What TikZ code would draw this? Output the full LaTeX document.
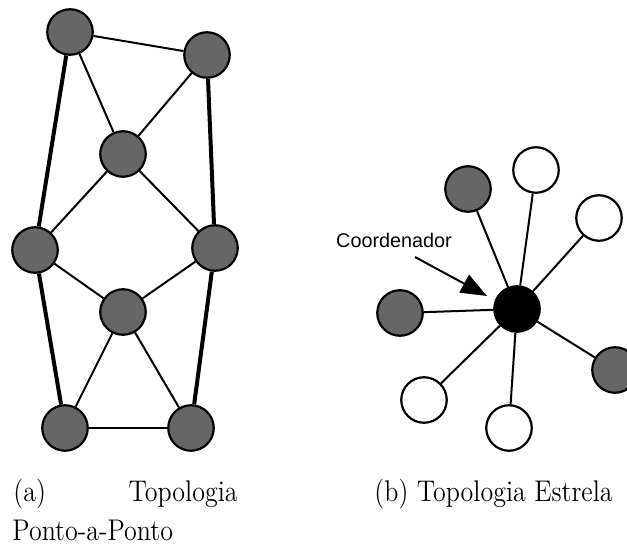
\documentclass[tikz,border=0pt]{standalone}
\usepackage{fontspec}
\newfontfamily\labelfont{Liberation Sans}
\usetikzlibrary{arrows.meta}
\definecolor{nodegray}{RGB}{102,102,102}
\newcommand{\tallcap}[1]{\scalebox{1}[1.15]{#1}}
\tikzset{
  x=0.5pt, y=-0.5pt,
  vertex/.style={circle, draw=black, line width=1.1pt, minimum size=22.75pt, inner sep=0pt},
  darkv/.style={vertex, fill=nodegray},
  lightv/.style={vertex, fill=white},
  hubv/.style={vertex, fill=black},
  thinlink/.style={line width=1pt},
  thicklink/.style={line width=2pt},
  caption/.style={font=\fontsize{13}{15}\selectfont, inner sep=0pt},
}
\begin{document}
\begin{tikzpicture}
\useasboundingbox (0,0) rectangle (627,545);
\clip (0,0) rectangle (627,545);

% (a) point-to-point mesh
\node[darkv] (a1) at (70,32) {};
\node[darkv] (a2) at (207,55) {};
\node[darkv] (a3) at (123,154) {};
\node[darkv] (a4) at (35,250) {};
\node[darkv] (a5) at (215,248) {};
\node[darkv] (a6) at (123,312) {};
\node[darkv] (a7) at (65,428) {};
\node[darkv] (a8) at (191,428) {};

\draw[thinlink] (a1) -- (a2);
\draw[thinlink] (a1) -- (a3);
\draw[thinlink] (a2) -- (a3);
\draw[thinlink] (a3) -- (a4);
\draw[thinlink] (a3) -- (a5);
\draw[thinlink] (a4) -- (a6);
\draw[thinlink] (a5) -- (a6);
\draw[thinlink] (a6) -- (a7);
\draw[thinlink] (a6) -- (a8);
\draw[thinlink] (a7) -- (a8);
\draw[thicklink] (a1) -- (a4);
\draw[thicklink] (a4) -- (a7);
\draw[thicklink] (a2) -- (a5);
\draw[thicklink] (a5) -- (a8);

% (b) star around the coordinator
\node[hubv] (hub) at (517,309) {};
\node[darkv] (s1) at (468,189) {};
\node[lightv] (s2) at (536,170) {};
\node[lightv] (s3) at (599,218) {};
\node[darkv] (s4) at (400,313) {};
\node[darkv] (s5) at (615,370) {};
\node[lightv] (s6) at (424,400) {};
\node[lightv] (s7) at (509,428) {};
\foreach \s in {s1,s2,s3,s4,s5,s6,s7}
  \draw[thinlink] (hub) -- (\s);

\node[font=\labelfont\fontsize{9.9}{12}\selectfont, anchor=base, inner sep=0pt] (lbl) at (394,248) {Coordenador};
\coordinate (tail) at (415,257);
\coordinate (tip) at (487,296);
\draw[thinlink, -{Triangle[length=13pt,width=10pt]}] (tail) -- (tip);

% captions
\node[caption, anchor=base west] (capa) at (13,502) {\tallcap{(a)}};
\node[caption, anchor=base east] (capb) at (238,502) {\tallcap{Topologia}};
\node[caption, anchor=base west] (capc) at (12,540) {\tallcap{Ponto-a-Ponto}};
\node[caption, anchor=base east] (capd) at (613,502) {\tallcap{(b) Topologia Estrela}};
\end{tikzpicture}
\end{document}
